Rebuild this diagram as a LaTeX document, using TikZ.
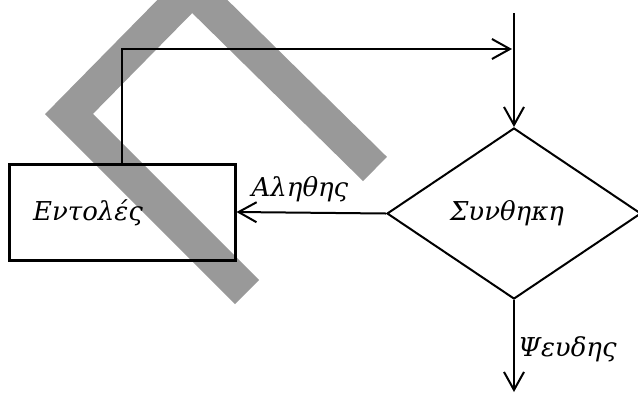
\documentclass[tikz,border=0pt]{standalone}
\usepackage{fontspec}
\setmainfont{DejaVu Serif}
\usetikzlibrary{shapes.geometric,arrows.meta}
\definecolor{band}{HTML}{999999}
\tikzset{
  flow/.style={line width=2pt, -{Straight Barb[length=18pt,width=20pt,line width=2pt]}},
  lbl/.style={font=\fontsize{26}{31}\selectfont\itshape, inner sep=0pt},
  boxshape/.style={draw, line width=3pt, rectangle, minimum width=226pt, minimum height=96pt, inner sep=0pt},
  cond/.style={draw, line width=2pt, diamond, minimum width=254pt, minimum height=171pt, inner sep=0pt}
}
\begin{document}
\begin{tikzpicture}[x=1pt,y=-1pt]
\useasboundingbox (0,0) rectangle (638,392);
\clip (0,0) rectangle (638,392);
% grey band
\draw[band, line width=34pt, line join=miter] (247,292) -- (69,114) -- (192,-11) -- (375,169);
% nodes
\node[boxshape] (cmd) at (122,212) {};
\node[lbl] (cmdtxt) at (88,213) {Εντολές};
\node[cond] (cnd) at (514,213.5) {};
\node[lbl] (cndtxt) at (507,213) {Συνθηκη};
% coordinates
\coordinate (start) at (514,13);
\coordinate (turn) at (122,49);
\coordinate (join) at (512,49);
\coordinate (finish) at (514,392);
% connectors
\draw[flow] (start) -- (cnd.north);
\draw[flow] (cmd.north -| turn) -- (turn) -- (join);
\draw[flow] (cnd.west) -- (cmd.east);
\draw[flow] (cnd.south) -- (finish);
\node[lbl] (yes) at (300,189) {Αληθης};
\node[lbl, anchor=west] (no) at (518,349) {Ψευδης};
\end{tikzpicture}
\end{document}
